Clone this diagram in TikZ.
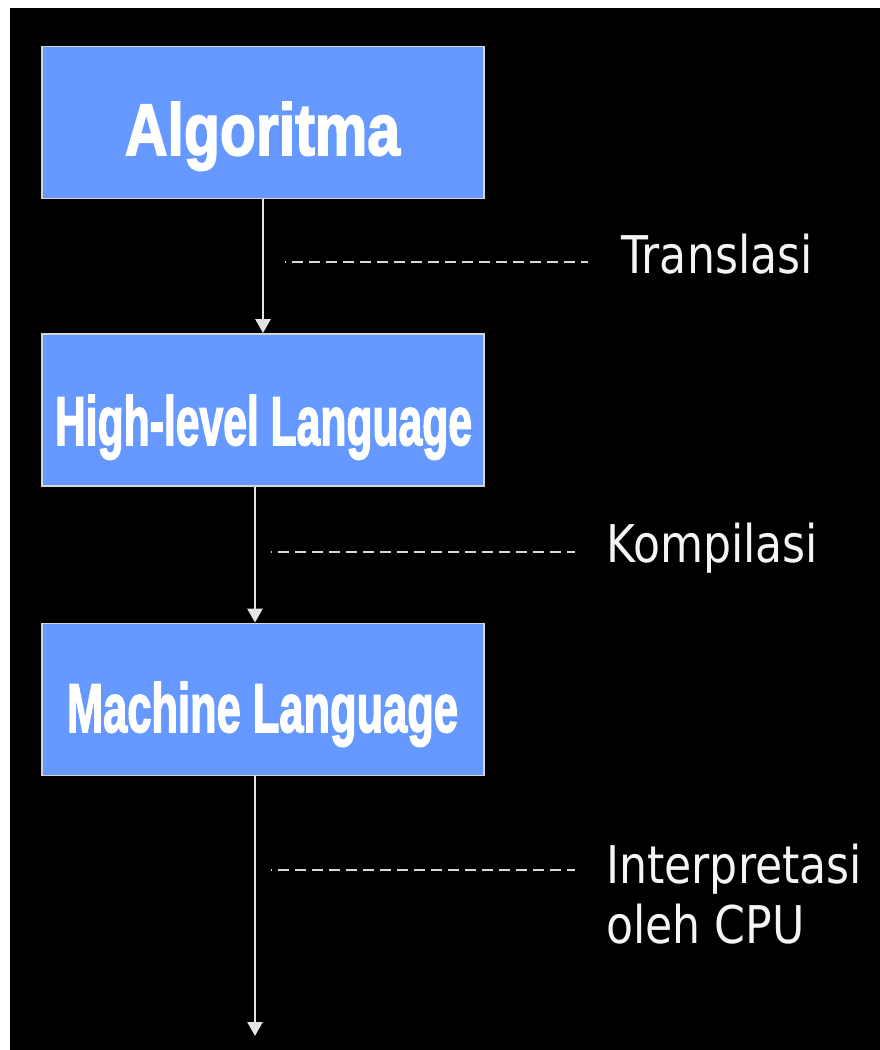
\documentclass[tikz,border=0pt]{standalone}
\usepackage{fontspec}
\setmainfont{DejaVu Sans}
\newfontfamily\titlefont{Liberation Sans}[BoldFeatures={FakeBold=2.5}]
\usetikzlibrary{arrows.meta}
\definecolor{boxblue}{HTML}{6699FF}
\definecolor{boxline}{HTML}{D4D4D4}
\definecolor{arrowc}{HTML}{E4E4E4}
\definecolor{dashc}{HTML}{D8D8D8}
\definecolor{labelc}{HTML}{F4F4F4}
\newcommand\ttl[3]{\resizebox{#1pt}{#2pt}{\titlefont\bfseries #3}}
\newcommand\lblx[1]{\scalebox{0.85}[1]{#1}}
\begin{document}
\begin{tikzpicture}[x=1pt,y=-1pt,
  boxnode/.style={draw=boxline, line width=1.8pt, fill=boxblue, minimum width=442pt, minimum height=152pt, inner sep=0pt},
  titlenode/.style={text=white, anchor=base, inner sep=0pt},
  lbl/.style={text=labelc, font=\fontsize{52}{60}\selectfont, anchor=base west, inner sep=0pt, align=left},
  arr/.style={draw=arrowc, line width=2.6pt, -{Triangle[width=15pt,length=14pt]}},
  dashline/.style={draw=dashc, line width=2.4pt, dash pattern=on 11pt off 6pt, dash phase=10pt}]
\useasboundingbox (0,0) rectangle (880,1050);
\fill[white] (0,0) rectangle (880,1050);
\fill[black] (10,8) rectangle (880,1050);

\node[boxnode] (b1) at (263,122.5) {};
\node[boxnode] (b2) at (263,410) {};
\node[boxnode] (b3) at (263,699.5) {};

\node[titlenode] (t1) at (262.5,155) {\ttl{275}{53}{Algoritma}};
\node[titlenode] (t2) at (263.5,445) {\ttl{417}{50}{High-level Language}};
\node[titlenode] (t3) at (262.5,732) {\ttl{391}{50}{Machine Language}};

\draw[arr] (b1.south) -- (b2.north);
\draw[arr] ([xshift=-8pt]b2.south) -- ([xshift=-8pt]b3.north);
\coordinate (endpt) at (255,1036);
\draw[arr] ([xshift=-8pt]b3.south) -- (endpt);

\node[lbl] (l1) at (621,273) {\lblx{Translasi}};
\node[lbl] (l2) at (606,562) {\lblx{Kompilasi}};
\node[lbl] (l3) at (606,943) {\lblx{Interpretasi}\\\lblx{oleh CPU}};

\coordinate (d1a) at (285,262); \coordinate (d1b) at (588,262);
\coordinate (d2a) at (271,552); \coordinate (d2b) at (575,552);
\coordinate (d3a) at (271,870); \coordinate (d3b) at (575,870);
\draw[dashline] (d1a) -- (d1b);
\draw[dashline] (d2a) -- (d2b);
\draw[dashline] (d3a) -- (d3b);
\end{tikzpicture}
\end{document}
